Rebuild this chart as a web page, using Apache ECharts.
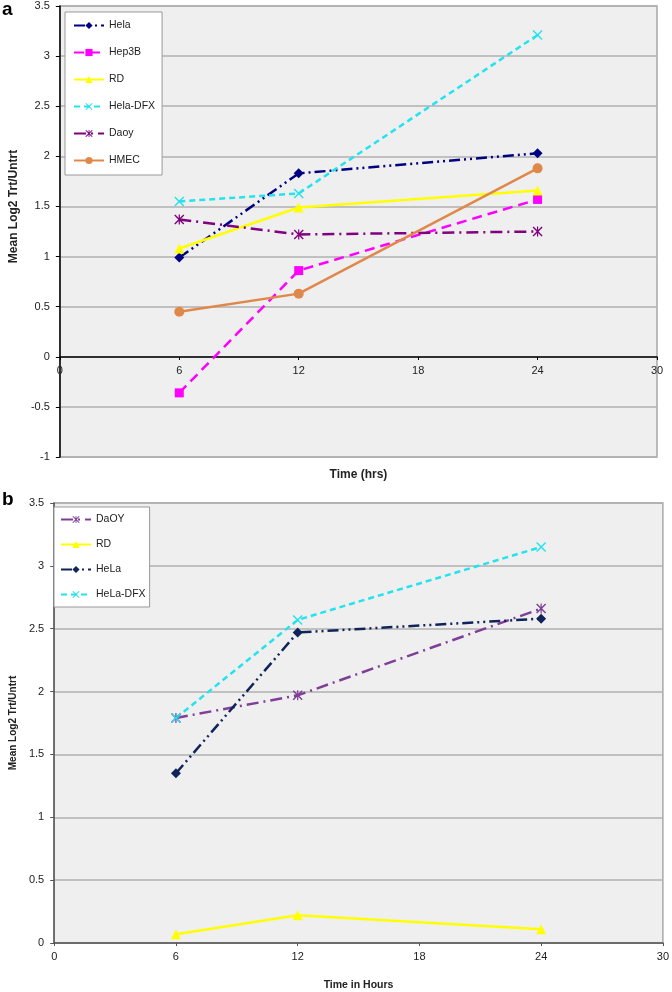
<!DOCTYPE html>
<html><head><meta charset="utf-8">
<script src="https://cdn.jsdelivr.net/npm/echarts@6/dist/echarts.min.js"></script>
<style>html,body{margin:0;padding:0;background:#fff}#c{width:672px;height:992px}</style>
</head><body><div id="c"></div>
<script>
// ---- data ----
const hoursA = [6, 12, 24];
const helaA = [0.99, 1.83, 2.03];
const hep3bA = [-0.36, 0.86, 1.57];
const rdA = [1.08, 1.49, 1.66];
const helaDfxA = [1.55, 1.63, 3.21];
const daoyA = [1.37, 1.22, 1.25];
const hmecA = [0.45, 0.63, 1.88];

const hoursB = [6, 12, 24];
const daoyB = [1.79, 1.97, 2.66];
const rdB = [0.07, 0.22, 0.11];
const helaB = [1.35, 2.47, 2.58];
const helaDfxB = [1.79, 2.57, 3.15];

const legendA = ['Hela', 'Hep3B', 'RD', 'Hela-DFX', 'Daoy', 'HMEC'];
const legendB = ['DaOY', 'RD', 'HeLa', 'HeLa-DFX'];

// ---- styles ----
const FONT = 'Liberation Sans, Arial, sans-serif';
const X_PATH = 'path://M0,1 L1,0 L5,4 L9,0 L10,1 L6,5 L10,9 L9,10 L5,6 L1,10 L0,9 L4,5 Z';
const AST_PATH = 'path://M0,1 L1,0 L5,4 L9,0 L10,1 L6,5 L10,9 L9,10 L5,6 L1,10 L0,9 L4,5 Z M4.4,0 L5.6,0 L5.6,10 L4.4,10 Z';
const DASH_DOT_DOT = [11, 4, 2, 4, 2, 4];
const DASH_DOT = [12, 5, 2, 5];

function pairs(xs, ys) { return xs.map((x, i) => [x, ys[i]]); }
function mk(name, xs, ys, color, symbol, size, type, idx) {
  return {
    name, type: 'line', xAxisIndex: idx, yAxisIndex: idx,
    data: pairs(xs, ys), symbol, symbolSize: size,
    itemStyle: { color },
    lineStyle: { color, width: 2.5, type },
    emphasis: { disabled: true }, animation: false
  };
}

const gridLine = { show: true, lineStyle: { color: '#b0b0b0', width: 1.5 } };
const tickLabel = { fontFamily: FONT, fontSize: 11, color: '#222' };

const option = {
  backgroundColor: '#fff',
  animation: false,
  grid: [
    { left: 55, right: 15, top: 6, height: 451, show: true, backgroundColor: '#efefef', borderColor: '#a8a8a8', borderWidth: 1.5 },
    { left: 43, right: 9, top: 503, height: 445, show: true, backgroundColor: '#efefef', borderColor: '#a8a8a8', borderWidth: 1.5 }
  ],
  xAxis: [
    { type: 'value', gridIndex: 0, min: 0, max: 30, interval: 6, position: 'bottom', offset: -100,
      axisLine: { show: true, onZero: false, lineStyle: { color: '#000', width: 1.5 } },
      axisTick: { show: true, length: 3, lineStyle: { color: '#000' } },
      axisLabel: Object.assign({ margin: 8 }, tickLabel),
      splitLine: { show: false },
      name: 'Time (hrs)', nameLocation: 'middle', nameGap: 112,
      nameTextStyle: { fontFamily: FONT, fontSize: 12, fontWeight: 'bold', color: '#222' } },
    { type: 'value', gridIndex: 1, min: 0, max: 30, interval: 6,
      axisLine: { show: true, lineStyle: { color: '#555', width: 1.5 } },
      axisTick: { show: true, length: 3, lineStyle: { color: '#555' } },
      axisLabel: Object.assign({ margin: 8 }, tickLabel),
      splitLine: { show: false },
      name: 'Time in Hours', nameLocation: 'middle', nameGap: 37,
      nameTextStyle: { fontFamily: FONT, fontSize: 10.5, fontWeight: 'bold', color: '#222' } }
  ],
  yAxis: [
    { type: 'value', gridIndex: 0, min: -1, max: 3.5, interval: 0.5,
      axisLine: { show: true, lineStyle: { color: '#000', width: 1.5 } },
      axisTick: { show: true, length: 4, lineStyle: { color: '#000' } },
      axisLabel: Object.assign({ margin: 10 }, tickLabel),
      splitLine: gridLine,
      name: 'Mean Log2 Trt/Untrt', nameLocation: 'middle', nameGap: 36,
      nameTextStyle: { fontFamily: FONT, fontSize: 12, fontWeight: 'bold', color: '#222', padding: [0, 0, 0, 50] } },
    { type: 'value', gridIndex: 1, min: 0, max: 3.5, interval: 0.5,
      axisLine: { show: true, lineStyle: { color: '#555', width: 1.5 } },
      axisTick: { show: true, length: 4, lineStyle: { color: '#555' } },
      axisLabel: Object.assign({ margin: 10 }, tickLabel),
      splitLine: gridLine,
      name: 'Mean Log2 Trt/Untrt', nameLocation: 'middle', nameGap: 33,
      nameTextStyle: { fontFamily: FONT, fontSize: 10, fontWeight: 'bold', color: '#222' } }
  ],
  legend: [
    { data: legendA, orient: 'vertical', left: 65, top: 12, itemWidth: 30, itemHeight: 9, itemGap: 16,
      padding: [8, 7, 9, 8], backgroundColor: '#fff', borderColor: '#999', borderWidth: 1,
      textStyle: { fontFamily: FONT, fontSize: 10.5, color: '#222' }, selectedMode: false },
    { data: legendB, orient: 'vertical', left: 54, top: 507, itemWidth: 30, itemHeight: 9, itemGap: 14,
      padding: [7, 4, 7, 6], backgroundColor: '#fff', borderColor: '#999', borderWidth: 1,
      textStyle: { fontFamily: FONT, fontSize: 10.5, color: '#222' }, selectedMode: false }
  ],
  graphic: [
    { type: 'text', left: 2, top: 0, style: { text: 'a', font: 'bold 19px ' + FONT, fill: '#000' } },
    { type: 'text', left: 2, top: 490, style: { text: 'b', font: 'bold 19px ' + FONT, fill: '#000' } }
  ],
  series: [
    mk('Hela', hoursA, helaA, '#000080', 'diamond', 10, DASH_DOT_DOT, 0),
    mk('Hep3B', hoursA, hep3bA, '#ff00ff', 'rect', 9, [10, 6], 0),
    mk('RD', hoursA, rdA, '#ffff00', 'triangle', 10, 'solid', 0),
    mk('Hela-DFX', hoursA, helaDfxA, '#22e3ee', X_PATH, 10, [6, 4], 0),
    mk('Daoy', hoursA, daoyA, '#800080', AST_PATH, 10, DASH_DOT, 0),
    mk('HMEC', hoursA, hmecA, '#e0884a', 'circle', 10, 'solid', 0),
    mk('DaOY', hoursB, daoyB, '#7f3f98', AST_PATH, 10, DASH_DOT, 1),
    mk('RD', hoursB, rdB, '#ffff00', 'triangle', 10, 'solid', 1),
    mk('HeLa', hoursB, helaB, '#10245a', 'diamond', 10, DASH_DOT_DOT, 1),
    mk('HeLa-DFX', hoursB, helaDfxB, '#22e3ee', X_PATH, 10, [6, 4], 1)
  ]
};
const chart = echarts.init(document.getElementById('c'), null, { renderer: 'canvas' });
chart.setOption(option);
</script>
</body></html>
